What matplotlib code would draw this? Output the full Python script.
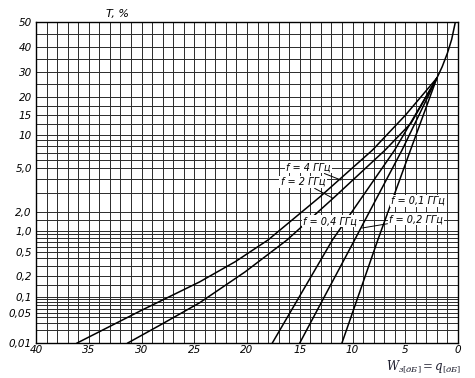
import numpy as np
import matplotlib
matplotlib.use('Agg')
import matplotlib.pyplot as plt
from matplotlib.ticker import FixedLocator
from statistics import NormalDist

plt.rcParams['font.family'] = 'DejaVu Sans'
plt.rcParams['mathtext.fontset'] = 'dejavuserif'

# W[dB] and T[%], one pair of lists per frequency
w_common = [2.0, 1.5, 1.0, 0.6, 0.25]
t_common = [27.4, 32, 37.5, 43, 50]

w_4ghz = [36.1, 30.1, 24.5, 21.1, 18.0, 13.1, 8.1, 5.0, 2.0]
t_4ghz = [0.01, 0.055, 0.165, 0.35, 0.75, 2.78, 7.4, 14.9, 27.4]

w_2ghz = [31.3, 28.2, 24.5, 20.2, 16.2, 11.7, 6.9, 4.45, 2.0]
t_2ghz = [0.01, 0.027, 0.078, 0.234, 0.75, 2.78, 7.4, 12.8, 27.4]

w_04ghz = [17.6, 11.9, 6.0, 2.0]
t_04ghz = [0.01, 0.75, 7.4, 27.4]

w_02ghz = [15.0, 9.8, 5.3, 2.0]
t_02ghz = [0.01, 0.75, 7.4, 27.4]

w_01ghz = [11.0, 7.6, 4.5, 2.0]
t_01ghz = [0.01, 0.75, 7.4, 27.4]

y_ticks = [0.01, 0.05, 0.1, 0.2, 0.5, 1.0, 2.0, 5.0, 10, 15, 20, 30, 40, 50]
y_ticklabels = ['0,01', '0,05', '0,1', '0,2', '0,5', '1,0', '2,0', '5,0',
                '10', '15', '20', '30', '40', '50']
y_grid = [0.02, 0.03, 0.04, 0.06, 0.07, 0.08, 0.09, 0.15, 0.3, 0.4, 0.6, 0.7,
          0.8, 0.9, 1.5, 3, 4, 6, 7, 8, 9, 12.5, 17.5, 25, 35, 45]
x_ticks = [40, 35, 30, 25, 20, 15, 10, 5, 0]

# probability-paper scale, calibrated on where the printed labels sit
nd = NormalDist()
cal_t = [1e-4, 0.01, 0.05, 0.1, 0.2, 0.5, 1, 2, 5, 10, 15, 20, 30, 40, 50, 99.99]
cal_y = [418, 343, 313, 297, 276, 252, 231, 212, 168, 135, 115, 97, 72, 47, 22, -313]
_ppf = np.vectorize(lambda p: nd.inv_cdf(min(max(p, 1e-9), 1 - 1e-9)))
_cdf = np.vectorize(nd.cdf)
cal_z = _ppf(np.array(cal_t) / 100.0)
cal_v = -np.array(cal_y, dtype=float)


def forward(t):
    t = np.asarray(t, dtype=float)
    return np.interp(_ppf(t / 100.0), cal_z, cal_v)


def inverse(v):
    v = np.asarray(v, dtype=float)
    return 100.0 * _cdf(np.interp(v, cal_v, cal_z))


fig = plt.figure(figsize=(4.75, 3.78), dpi=100)
ax = fig.add_axes([36 / 475, 35 / 378, 422 / 475, 321 / 378])
ax.set_yscale('function', functions=(forward, inverse))
ax.set_xlim(40, 0)
ax.set_ylim(0.01, 50)

ax.yaxis.set_major_locator(FixedLocator(y_ticks))
ax.yaxis.set_minor_locator(FixedLocator(y_grid))
ax.set_yticklabels(y_ticklabels)
ax.xaxis.set_major_locator(FixedLocator(x_ticks))
ax.xaxis.set_minor_locator(FixedLocator(np.arange(0, 41, 1)))
ax.set_xticklabels([str(v) for v in x_ticks])

ax.grid(which='both', color='#2a2a2a', lw=0.7)
ax.tick_params(which='both', length=0)
ax.tick_params(axis='y', pad=3, labelsize=7.5)
ax.tick_params(axis='x', pad=1.5, labelsize=7.5)
for lab in ax.get_xticklabels() + ax.get_yticklabels():
    lab.set_fontstyle('italic')
for s in ax.spines.values():
    s.set_linewidth(1.0)

for w, t in [(w_4ghz, t_4ghz), (w_2ghz, t_2ghz), (w_04ghz, t_04ghz),
             (w_02ghz, t_02ghz), (w_01ghz, t_01ghz)]:
    ax.plot(w, t, color='black', lw=1.1, zorder=3)
ax.plot(w_common, t_common, color='black', lw=1.1, zorder=3)

box = dict(facecolor='white', edgecolor='none', pad=1)
lead = dict(arrowstyle='-', lw=0.7, color='black', shrinkA=0, shrinkB=0)
ax.annotate('f = 4 ГГц', xy=(11.1, 3.95), xytext=(14.2, 5.1), fontsize=7,
            style='italic', ha='center', va='center', bbox=box,
            arrowprops=lead, zorder=4)
ax.annotate('f = 2 ГГц', xy=(11.9, 2.72), xytext=(14.7, 3.8), fontsize=7,
            style='italic', ha='center', va='center', bbox=box,
            arrowprops=lead, zorder=4)
ax.text(12.1, 1.45, 'f = 0,4 ГГц', fontsize=7, style='italic',
        ha='center', va='center', bbox=box, zorder=4)
ax.annotate('f = 0,1 ГГц', xy=(6.3, 2.34), xytext=(3.8, 2.55), fontsize=7,
            style='italic', ha='center', va='center', bbox=box,
            arrowprops=lead, zorder=4)
ax.annotate('f = 0,2 ГГц', xy=(9.1, 1.12), xytext=(4.0, 1.56), fontsize=7,
            style='italic', ha='center', va='center', bbox=box,
            arrowprops=lead, zorder=4)

fig.text(117 / 475, 1 - 14 / 378, 'T, %', fontsize=8, style='italic',
         ha='center', va='center')
fig.text(424 / 475, 1 - 367 / 378, r'$W_{з[дБ]}=q_{[дБ]}$', fontsize=8.5,
         ha='center', va='center', color='#1a1a2a')

fig.savefig('out.png', dpi=100)
